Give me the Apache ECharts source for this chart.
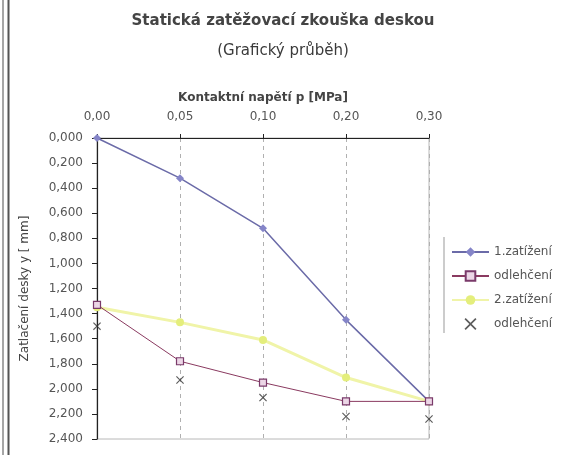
<!DOCTYPE html>
<html>
<head>
<meta charset="utf-8">
<script src="https://cdn.jsdelivr.net/npm/echarts@6/dist/echarts.min.js"></script>
<style>
  html, body { margin: 0; padding: 0; background: #fff; }
  #chart { width: 561px; height: 455px; }
</style>
</head>
<body>
<div id="chart"></div>
<script>
// Contact stress categories (MPa) and settlement readings (mm)
const pressures = ['0,00', '0,05', '0,10', '0,20', '0,30'];
const loading1 = [0.000, 0.32, 0.72, 1.45, 2.10];
const unloading1 = [1.33, 1.78, 1.95, 2.10, 2.10];
const loading2 = [1.35, 1.47, 1.61, 1.91, 2.10];
const unloading2 = [1.50, 1.93, 2.07, 2.22, 2.24];

const seriesNames = {
  load1: '1.zatížení',
  unload1: 'odlehčení',
  load2: '2.zatížení',
  unload2: 'odlehčení'
};

const crossPath = 'path://M0,1L1,0L5,4L9,0L10,1L6,5L10,9L9,10L5,6L1,10L0,9L4,5Z';
const font = 'DejaVu Sans, Verdana, sans-serif';

const chart = echarts.init(document.getElementById('chart'), null, { renderer: 'canvas' });

chart.setOption({
  backgroundColor: '#ffffff',
  animation: false,
  textStyle: { fontFamily: font },
  title: {
    text: 'Statická zatěžovací zkouška deskou',
    subtext: '(Grafický průběh)',
    left: 278,
    top: 9,
    textAlign: 'center',
    itemGap: 15,
    textStyle: { fontSize: 15, fontWeight: 'bold', color: '#444', fontFamily: font },
    subtextStyle: { fontSize: 15, color: '#3a3a3a', fontFamily: font }
  },
  legend: {
    orient: 'vertical',
    left: 446,
    top: 241,
    itemWidth: 37,
    itemHeight: 12,
    itemGap: 12,
    data: [
      { name: 'load1' },
      { name: 'unload1' },
      { name: 'load2' },
      { name: 'unload2', icon: crossPath, itemStyle: { color: '#333' } }
    ],
    formatter: key => seriesNames[key],
    textStyle: { fontSize: 12, color: '#555', fontFamily: font }
  },
  grid: {
    left: 97,
    right: 132,
    top: 138,
    bottom: 16,
    show: true,
    borderColor: '#b8b8b8',
    borderWidth: 1
  },
  xAxis: {
    type: 'category',
    position: 'top',
    boundaryGap: false,
    data: pressures,
    name: 'Kontaktní napětí p [MPa]',
    nameLocation: 'middle',
    nameGap: 34,
    nameTextStyle: { fontSize: 12, fontWeight: 'bold', color: '#444', fontFamily: font },
    axisLine: { lineStyle: { color: '#222', width: 1.2 } },
    axisTick: { show: true, length: 4, lineStyle: { color: '#222' } },
    axisLabel: { fontSize: 12, color: '#555', margin: 15, fontFamily: font },
    splitLine: { show: true, lineStyle: { color: '#b0b0b0', type: [4, 4], width: 1 } }
  },
  yAxis: {
    type: 'value',
    inverse: true,
    min: 0,
    max: 2.4,
    interval: 0.2,
    name: 'Zatlačení desky y [ mm]',
    nameLocation: 'middle',
    nameGap: 66,
    nameRotate: 90,
    nameTextStyle: { fontSize: 12, color: '#444', fontFamily: font },
    axisLine: { show: true, lineStyle: { color: '#222', width: 1.2 } },
    axisTick: { show: true, length: 5, lineStyle: { color: '#222' } },
    axisLabel: {
      fontSize: 12,
      color: '#555',
      margin: 14,
      fontFamily: font,
      formatter: v => v.toFixed(3).replace('.', ',')
    },
    splitLine: { show: false }
  },
  graphic: [
    // scanned page edge on the left
    { type: 'line', shape: { x1: 3, y1: 0, x2: 3, y2: 455 }, style: { stroke: '#888', lineWidth: 1.5 } },
    { type: 'line', shape: { x1: 8.5, y1: 0, x2: 8.5, y2: 455 }, style: { stroke: '#555', lineWidth: 2 } },
    // legend frame edge
    { type: 'line', shape: { x1: 444, y1: 237, x2: 444, y2: 333 }, style: { stroke: '#999', lineWidth: 1 } }
  ],
  series: [
    {
      name: 'load2',
      type: 'line',
      data: loading2,
      symbol: 'circle',
      symbolSize: 8,
      z: 2,
      lineStyle: { color: '#f0f4a8', width: 3 },
      itemStyle: { color: '#e4ee7c', borderWidth: 0 }
    },
    {
      name: 'load1',
      type: 'line',
      data: loading1,
      symbol: 'diamond',
      symbolSize: 8,
      z: 3,
      lineStyle: { color: '#6b6ba8', width: 1.5 },
      itemStyle: { color: '#8585c8', borderWidth: 0 }
    },
    {
      name: 'unload1',
      type: 'line',
      data: unloading1,
      symbol: 'rect',
      symbolSize: 7,
      z: 4,
      lineStyle: { color: '#8a3a60', width: 1 },
      itemStyle: { color: '#ecd6e6', borderColor: '#7a3a6a', borderWidth: 1.2 }
    },
    {
      name: 'unload2',
      type: 'scatter',
      data: unloading2,
      symbol: crossPath,
      symbolSize: 8,
      z: 5,
      itemStyle: { color: '#333' }
    }
  ]
});
</script>
</body>
</html>
